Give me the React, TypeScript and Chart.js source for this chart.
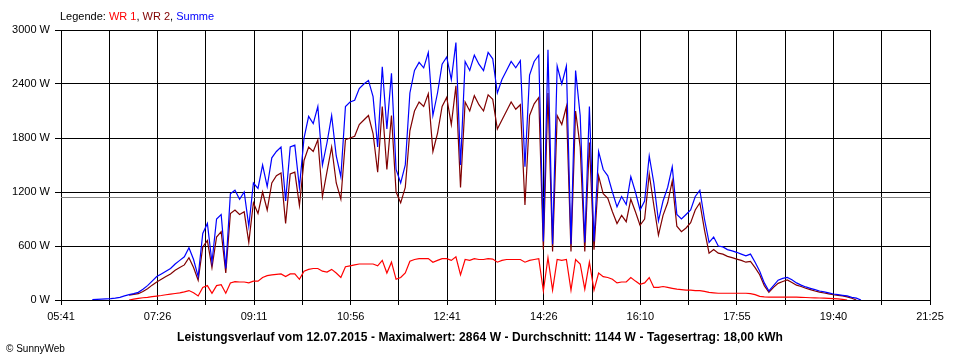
import React, { useEffect, useRef } from "react";
import { Chart, registerables } from "chart.js";

Chart.register(...registerables);

const FONT = '"Liberation Sans", Arial, sans-serif';

const TIMES = [
  "06:15", "06:20", "06:25", "06:30", "06:35", "06:40", "06:45", "06:50", "06:55",
  "07:00", "07:05", "07:10", "07:15", "07:20", "07:25", "07:30", "07:35", "07:40", "07:45", "07:50", "07:55",
  "08:00", "08:05", "08:10", "08:15", "08:20", "08:25", "08:30", "08:35", "08:40", "08:45", "08:50", "08:55",
  "09:00", "09:05", "09:10", "09:15", "09:20", "09:25", "09:30", "09:35", "09:40", "09:45", "09:50", "09:55",
  "10:00", "10:05", "10:10", "10:15", "10:20", "10:25", "10:30", "10:35", "10:40", "10:45", "10:50", "10:55",
  "11:00", "11:05", "11:10", "11:15", "11:20", "11:25", "11:30", "11:35", "11:40", "11:45", "11:50", "11:55",
  "12:00", "12:05", "12:10", "12:15", "12:20", "12:25", "12:30", "12:35", "12:40", "12:45", "12:50", "12:55",
  "13:00", "13:05", "13:10", "13:15", "13:20", "13:25", "13:30", "13:35", "13:40", "13:45", "13:50", "13:55",
  "14:00", "14:05", "14:10", "14:15", "14:20", "14:25", "14:30", "14:35", "14:40", "14:45", "14:50", "14:55",
  "15:00", "15:05", "15:10", "15:15", "15:20", "15:25", "15:30", "15:35", "15:40", "15:45", "15:50", "15:55",
  "16:00", "16:05", "16:10", "16:15", "16:20", "16:25", "16:30", "16:35", "16:40", "16:45", "16:50", "16:55",
  "17:00", "17:05", "17:10", "17:15", "17:20", "17:25", "17:30", "17:35", "17:40", "17:45", "17:50", "17:55",
  "18:00", "18:05", "18:10", "18:15", "18:20", "18:25", "18:30", "18:35", "18:40", "18:45", "18:50", "18:55",
  "19:00", "19:05", "19:10", "19:15", "19:20", "19:25", "19:30", "19:35", "19:40", "19:45", "19:50", "19:55",
  "20:00", "20:05", "20:10",
];

const SUMME = [
  5, 8, 10, 12, 15, 20, 30, 45, 60,
  70, 85, 120, 160, 210, 260, 290, 320, 350, 400, 440, 480,
  580, 450, 260, 740, 850, 420, 900, 950, 350, 1180, 1220, 1120,
  1200, 820, 1300, 1240, 1500, 1260, 1580, 1650, 1700, 1100, 1700, 1720,
  1250, 1800, 2040, 1960, 2150, 1500, 1750, 2050, 1600, 1370, 2150, 2200,
  2220, 2350, 2400, 2440, 2260, 1700, 2590, 1900, 2520, 1450, 1300, 1500,
  2300, 2550, 2640, 2580, 2750, 2050, 2300, 2620, 2700, 2450, 2860, 1500,
  2650, 2550, 2720, 2620, 2550, 2750, 2680, 2300, 2450, 2550, 2650, 2580,
  2660, 1480, 2500, 2650, 2720, 650, 2780, 620, 2600, 2400, 2600, 620,
  2550, 2050, 640, 2150, 650, 1650, 1450, 1380, 1200, 1035, 1150, 1060,
  1370, 1200, 1000, 1100, 1600, 1300, 880, 1100, 1250, 1480, 950, 900,
  950, 1000, 1150, 1220, 900, 640, 700, 600, 590, 560, 545, 530,
  510, 490, 510, 420, 320, 190, 100, 160, 220, 240, 250, 225,
  190, 165, 145, 130, 115, 100, 90, 80, 67, 60, 52, 45,
  30, 20, 0,
];

const WR2 = [
  null, null, null, null, null, null, null, null, 55,
  62, 70, 95, 125, 165, 200, 230, 260, 290, 330, 360, 390,
  470, 360, 220, 590, 660, 360, 700, 760, 300, 960, 1000, 950,
  980, 640, 1080, 960, 1200, 1000, 1300, 1380, 1410, 850, 1400, 1420,
  1050, 1550, 1700, 1650, 1780, 1150, 1430, 1700, 1300, 1120, 1780, 1800,
  1820, 1950, 2000, 2050, 1850, 1420, 2150, 1450, 2050, 1200, 1080, 1250,
  1880, 2100, 2200, 2150, 2290, 1650, 1850, 2150, 2250, 1950, 2380, 1250,
  2200, 2100, 2270, 2170, 2100, 2280, 2230, 1900, 2000, 2100, 2200, 2120,
  2170, 1055, 2050, 2180, 2250, 560, 2300, 540, 2050, 1950, 2150, 540,
  2100, 1700, 540, 1750, 560, 1380, 1180, 1130, 980, 850, 940, 870,
  1120, 980, 830, 900, 1400, 1050, 720, 940, 1080, 1320, 820, 760,
  800, 860, 1000, 1080, 780, 520, 560, 520, 510, 485, 470, 455,
  440, 420, 430, 360, 280, 160, 85, 140, 185, 205, 222, 195,
  165, 150, 130, 115, 100, 88, 78, 68, 58, 52, 45, 35,
  20, 0, null,
];

const WR1 = [
  null, null, null, null, null, null, null, null, 0,
  10, 18, 25, 30, 38, 44, 50, 58, 65, 72, 80, 90,
  105, 80, 45, 140, 160, 75, 160, 170, 75, 190, 205, 200,
  200, 190, 210, 210, 250, 270, 280, 285, 290, 260, 290, 290,
  230, 320, 340, 350, 350, 320, 310, 340, 300, 250, 370, 380,
  390, 400, 400, 400, 400, 380, 440, 300, 420, 230, 250, 300,
  430, 450, 460, 460, 460, 420, 440, 460, 460, 440, 480, 280,
  450, 440, 460, 450, 450, 460, 455, 420, 440, 450, 450, 450,
  450, 420, 440, 450, 460, 100, 470, 110, 450, 440, 450, 110,
  450, 400, 120, 420, 110, 300, 260, 250, 230, 190, 200, 200,
  250, 210, 175, 190, 250, 140, 140, 150, 140, 130, 120, 115,
  110, 110, 105, 105, 95, 85, 80, 75, 75, 75, 75, 75,
  75, 75, 70, 60, 40, 35, 33, 33, 33, 33, 33, 33,
  33, 30, 28, 25, 24, 22, 20, 18, 15, 12, 8, 0,
  null, null, null,
];

const X_TICK_LABELS = ["05:41", "07:26", "09:11", "10:56", "12:41", "14:26", "16:10", "17:55", "19:40", "21:25"];
const Y_TICKS = [0, 600, 1200, 1800, 2400, 3000];
const AVERAGE = 1144;
const TITLE = "Leistungsverlauf vom 12.07.2015 - Maximalwert: 2864 W - Durchschnitt: 1144 W - Tagesertrag: 18,00 kWh";

const toMin = (s: string) => {
  const [h, m] = s.split(":").map(Number);
  return h * 60 + m;
};

const X_MIN = toMin(X_TICK_LABELS[0]);
const X_MAX = toMin(X_TICK_LABELS[X_TICK_LABELS.length - 1]);

const pts = (vals: (number | null)[]) => vals.map((v, i) => ({ x: toMin(TIMES[i]), y: v }));

const avgLinePlugin = {
  id: "avgLine",
  beforeDatasetsDraw(chart: any) {
    const { ctx, chartArea, scales } = chart;
    const py = Math.round(scales.y.getPixelForValue(AVERAGE)) + 0.5;
    ctx.save();
    ctx.strokeStyle = "#808080";
    ctx.lineWidth = 1;
    ctx.beginPath();
    ctx.moveTo(chartArea.left, py);
    ctx.lineTo(chartArea.right, py);
    ctx.stroke();
    ctx.restore();
  },
};

export default function App() {
  const ref = useRef<HTMLCanvasElement | null>(null);

  useEffect(() => {
    document.body.style.margin = "0";
    const canvas = ref.current;
    if (!canvas) return;
    const lineDs = (label: string, data: (number | null)[], color: string) => ({
      label,
      data: pts(data),
      borderColor: color,
      backgroundColor: color,
      borderWidth: 1.2,
      pointRadius: 0,
      fill: false,
      tension: 0,
      stepped: false,
      spanGaps: false,
    });
    const chart = new Chart(canvas, {
      type: "line",
      data: {
        datasets: [
          lineDs("Summe", SUMME, "#0000ff"),
          lineDs("WR 2", WR2, "#800000"),
          lineDs("WR 1", WR1, "#ff0000"),
        ],
      },
      options: {
        animation: false,
        responsive: false,
        events: [],
        layout: { padding: { top: 30, right: 30, left: 0, bottom: 0 } },
        plugins: {
          legend: { display: false },
          tooltip: { enabled: false },
          title: { display: false },
        },
        scales: {
          x: {
            type: "linear",
            min: X_MIN,
            max: X_MAX,
            afterBuildTicks: (s: any) => {
              const n = (X_TICK_LABELS.length - 1) * 2;
              const ticks = [];
              for (let k = 0; k <= n; k++) ticks.push({ value: X_MIN + ((X_MAX - X_MIN) * k) / n });
              s.ticks = ticks;
            },
            afterFit: (s: any) => {
              s.height = 60;
            },
            grid: { color: "#000", lineWidth: 1, drawTicks: true, tickLength: 5, tickColor: "#000" },
            border: { display: true, color: "#000", width: 1 },
            ticks: {
              autoSkip: false,
              maxRotation: 0,
              minRotation: 0,
              padding: 5,
              color: "#000",
              font: { family: FONT, size: 11 },
              callback: (_v: any, i: number) => (i % 2 === 0 ? X_TICK_LABELS[i / 2] : ""),
            },
          },
          y: {
            min: 0,
            max: 3000,
            afterBuildTicks: (s: any) => {
              s.ticks = Y_TICKS.map((v) => ({ value: v }));
            },
            afterFit: (s: any) => {
              s.width = 61;
            },
            grid: { color: "#000", lineWidth: 1, drawTicks: true, tickLength: 6, tickColor: "#000" },
            border: { display: true, color: "#000", width: 1 },
            ticks: {
              padding: 5,
              color: "#000",
              font: { family: FONT, size: 11 },
              callback: (v: any) => `${v} W`,
            },
          },
        },
      },
      plugins: [avgLinePlugin],
    } as any);
    return () => chart.destroy();
  }, []);

  return (
    <div style={{ position: "fixed", left: 0, top: 0, width: 960, height: 360, background: "#fff", fontFamily: FONT }}>
      <canvas ref={ref} width={960} height={360} style={{ display: "block", width: 960, height: 360 }} />
      <div style={{ position: "absolute", left: 60, top: 11, fontSize: 11, lineHeight: "11px", whiteSpace: "nowrap", color: "#000" }}>
        Legende: <span style={{ color: "#ff0000" }}>WR 1</span>, <span style={{ color: "#800000" }}>WR 2</span>,{" "}
        <span style={{ color: "#0000ff" }}>Summe</span>
      </div>
      <div style={{ position: "absolute", left: 0, top: 331, width: 960, textAlign: "center", fontSize: 12, lineHeight: "12px", fontWeight: "bold", letterSpacing: "0.1px", whiteSpace: "nowrap", color: "#000" }}>
        {TITLE}
      </div>
      <div style={{ position: "absolute", left: 6, top: 344, fontSize: 10, lineHeight: "10px", whiteSpace: "nowrap", color: "#000" }}>
        © SunnyWeb
      </div>
    </div>
  );
}
